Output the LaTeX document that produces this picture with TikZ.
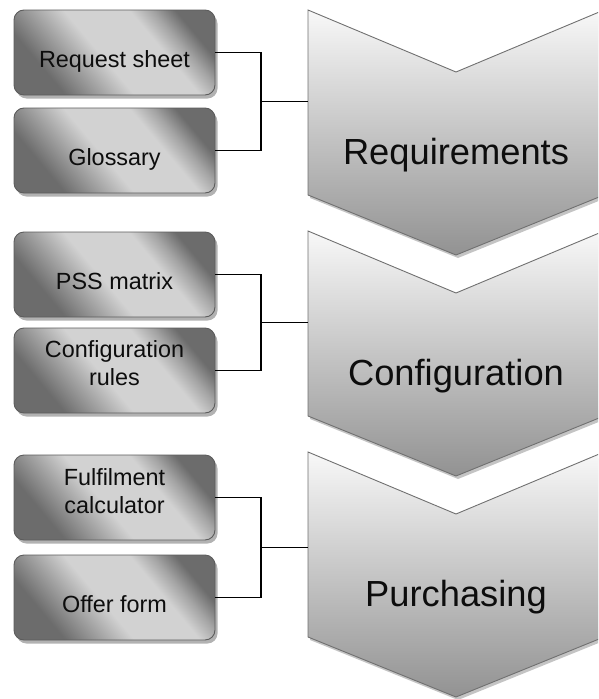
\documentclass[tikz,border=0pt]{standalone}
\usepackage{fontspec}
\setmainfont{Liberation Sans}
\usetikzlibrary{shadows}

\definecolor{boxedge}{HTML}{5C5C5C}
\definecolor{boxdark}{HTML}{6C6C6C}
\definecolor{boxmid}{HTML}{A4A4A4}
\definecolor{boxlight}{HTML}{D2D2D2}
\definecolor{chevedge}{HTML}{707070}
\definecolor{chevtop}{HTML}{F8F8F8}
\definecolor{chevmid}{HTML}{D2D2D2}
\definecolor{chevbot}{HTML}{929292}
\definecolor{chevshadow}{HTML}{C4C4C4}

% diagonal dark-light-dark sheen of the document boxes
\pgfdeclarehorizontalshading{boxsheen}{100bp}{color(0bp)=(boxdark); color(28bp)=(boxdark);
  color(38bp)=(boxmid); color(46bp)=(boxlight); color(63bp)=(boxlight); color(69bp)=(boxmid); color(75bp)=(boxdark); color(100bp)=(boxdark)}

% outline of one downward chevron whose top-left corner sits at y = #1
\newcommand\chevronoutline[1]{(308,#1) -- (456,{#1+62}) -- (604,#1) -- (604,{#1+185}) -- (456,{#1+245}) -- (308,{#1+185}) -- cycle}

\begin{document}
\begin{tikzpicture}[x=1pt,y=-1pt,
  docbox/.style={draw=boxedge, line width=0.9pt, rounded corners=10pt,
    minimum width=201pt, minimum height=85pt, inner sep=0pt,
    shade, shading=boxsheen, shading angle=40,
    drop shadow={shadow xshift=2.5pt, shadow yshift=-3.5pt, fill=black, opacity=0.3}},
  boxtext/.style={anchor=base, inner sep=0pt, text=black!95,
    font=\fontsize{23.4}{28}\selectfont},
  chevtext/.style={anchor=base, inner sep=0pt, text=black!95,
    font=\fontsize{36.3}{42}\selectfont},
  chevron/.style={draw=chevedge, line width=0.9pt,
    top color=chevtop, middle color=chevmid, bottom color=chevbot},
  link/.style={draw=black, line width=1.4pt}]

\useasboundingbox (0,0) rectangle (598,699);
\clip (0,0) rectangle (598,699);

% phase chevrons with their soft shadows
\foreach \t in {10,231,452}{
  \fill[chevshadow, shift={(2,3)}] \chevronoutline{\t};
  \path[chevron] \chevronoutline{\t};
}
\node[chevtext] (ph1) at (456,164) {Requirements};
\node[chevtext] (ph2) at (456,385) {Configuration};
\node[chevtext] (ph3) at (456,606) {Purchasing};

% attachment points on the left edge of each chevron
\coordinate (c1) at (308,101.5);
\coordinate (c2) at (308,322.5);
\coordinate (c3) at (308,547.5);

% document boxes
\node[docbox] (b1) at (114.5,52.5) {};
\node[docbox] (b2) at (114.5,150.5) {};
\node[docbox] (b3) at (114.5,274.5) {};
\node[docbox] (b4) at (114.5,370.5) {};
\node[docbox] (b5) at (114.5,497.5) {};
\node[docbox] (b6) at (114.5,597.5) {};

\node[boxtext] (t1) at (114.5,67.5) {Request sheet};
\node[boxtext] (t2) at (114.5,165.5) {Glossary};
\node[boxtext] (t3) at (114.5,289.5) {PSS matrix};
\node[boxtext] (t4) at (114.5,357) {\begin{tabular}[t]{@{}c@{}}Configuration\\rules\end{tabular}};
\node[boxtext] (t5) at (114.5,485) {\begin{tabular}[t]{@{}c@{}}Fulfilment\\calculator\end{tabular}};
\node[boxtext] (t6) at (114.5,612) {Offer form};

% bracket joints
\coordinate (j1) at (261,101.5);
\coordinate (j2) at (261,322.5);
\coordinate (j3) at (261,547.5);

% brackets joining each pair of documents to its phase
\draw[link] (b1.east) -| (j1) |- (b2.east);
\draw[link] (j1) -- (c1);
\draw[link] (b3.east) -| (j2) |- (b4.east);
\draw[link] (j2) -- (c2);
\draw[link] (b5.east) -| (j3) |- (b6.east);
\draw[link] (j3) -- (c3);
\end{tikzpicture}
\end{document}
